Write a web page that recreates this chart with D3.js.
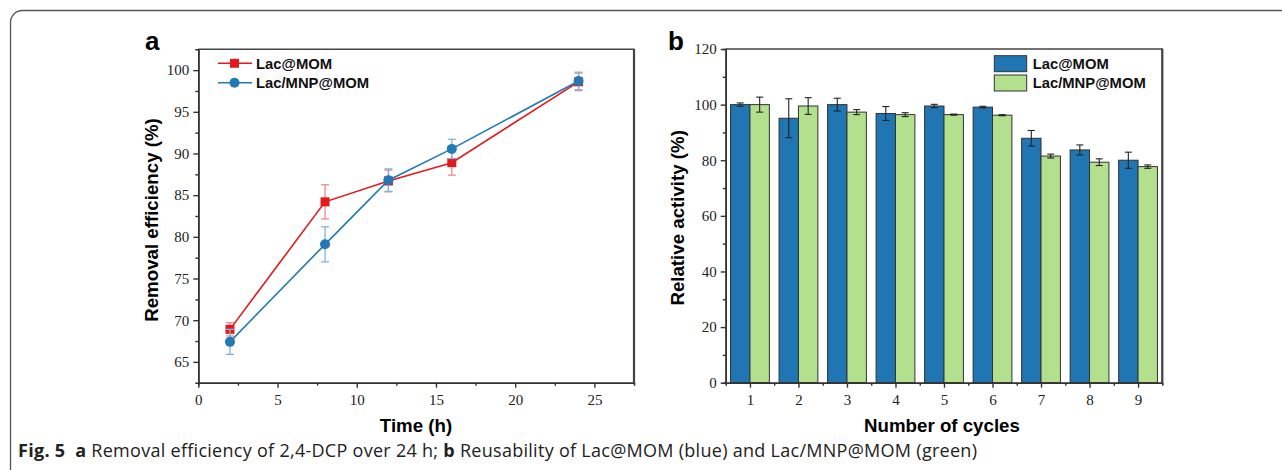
<!DOCTYPE html>
<html>
<head>
<meta charset="utf-8">
<script src="https://cdn.jsdelivr.net/npm/d3@7"></script>
<style>
  body { margin: 0; background: #fff; }
  svg { display: block; }
</style>
</head>
<body>
<script>
// ---- panel a : removal efficiency ----
const hours = [2, 8, 12, 16, 24]
const lacMom = [68.9, 84.2, 86.7, 88.9, 98.6]
const lacMomErr = [0.8, 2.05, 1.3, 1.5, 1.05]
const lacMnp = [67.4, 79.1, 86.8, 90.55, 98.7]
const lacMnpErr = [1.5, 2.1, 1.35, 1.15, 1.05]
const xTicksA = [0, 5, 10, 15, 20, 25]
const yTicksA = [65, 70, 75, 80, 85, 90, 95, 100]

// ---- panel b : reusability ----
const cycles = [1, 2, 3, 4, 5, 6, 7, 8, 9]
const actMom = [100, 95.1, 100, 96.8, 99.5, 99.1, 87.9, 83.7, 80.0]
const actMomErr = [0.6, 7.0, 2.3, 2.5, 0.6, 0.3, 2.8, 1.8, 2.9]
const actMnp = [100, 99.5, 97.3, 96.4, 96.4, 96.2, 81.5, 79.3, 77.7]
const actMnpErr = [2.7, 3.0, 0.9, 0.7, 0.2, 0.2, 0.7, 1.2, 0.6]
const yTicksB = [0, 20, 40, 60, 80, 100, 120]

const seriesNames = ['Lac@MOM', 'Lac/MNP@MOM']

const W = 1282, H = 470
const svg = d3.select('body').append('svg')
  .attr('width', W)
  .attr('height', H)

// rounded figure frame, runs off the right and bottom edge
svg.append('rect')
  .attr('x', 10.5).attr('y', 10.5)
  .attr('width', 1400).attr('height', 600)
  .attr('rx', 12)
  .style('fill', 'none')
  .style('stroke', '#555')
  .style('stroke-width', 1.3)

const tickFont = '"Liberation Serif", "DejaVu Serif", serif'
const boldFont = '"Liberation Sans", Arial, sans-serif'
const axisCol = '#333'

function styleAxis(g) {
  g.attr('font-family', null)
  g.select('.domain').style('stroke', axisCol).style('stroke-width', 1.6)
  g.selectAll('.tick line').style('stroke', axisCol).style('stroke-width', 1.4)
  g.selectAll('.tick text')
    .style('font-family', tickFont)
    .style('font-size', '15px')
    .style('fill', '#222')
}

/* ================= panel a ================= */
const a = { left: 198.3, right: 634, top: 49.3, bottom: 382.7 }
const xA = d3.scaleLinear().domain([0, 27.5]).range([a.left, a.right])
const yA = d3.scaleLinear().domain([62.5, 102.5]).range([a.bottom, a.top])

const gA = svg.append('g')

// box (top + right edges)
gA.append('path')
  .attr('d', `M${a.left},${a.top}H${a.right}V${a.bottom}`)
  .style('fill', 'none').style('stroke', '#444').style('stroke-width', 1.4)
gA.append('line')
  .attr('x1', a.right).attr('x2', a.right).attr('y1', a.top).attr('y2', a.bottom)
  .style('stroke', '#444').style('stroke-width', 2.2)

// minor ticks
gA.append('g')
  .attr('transform', `translate(0,${a.bottom})`)
  .call(d3.axisBottom(xA).tickValues(d3.range(2.5, 27.5, 5)).tickSize(3).tickFormat(''))
  .call(styleAxis)
gA.append('g')
  .attr('transform', `translate(${a.left},0)`)
  .call(d3.axisLeft(yA).tickValues(d3.range(67.5, 102.5, 5)).tickSize(3).tickFormat(''))
  .call(styleAxis)

gA.append('g')
  .attr('transform', `translate(0,${a.bottom})`)
  .call(d3.axisBottom(xA).tickValues(xTicksA).tickSize(5).tickSizeOuter(0).tickPadding(7))
  .call(styleAxis)
gA.append('g')
  .attr('transform', `translate(${a.left},0)`)
  .call(d3.axisLeft(yA).tickValues(yTicksA).tickSize(5).tickSizeOuter(0).tickPadding(4))
  .call(styleAxis)

const seriesA = [
  { name: seriesNames[0], vals: lacMom, err: lacMomErr, color: '#e31a1c', errColor: '#f08a8b', shape: 'square' },
  { name: seriesNames[1], vals: lacMnp, err: lacMnpErr, color: '#2279b5', errColor: '#7fb2d8', shape: 'circle' }
]

const line = d3.line().x(d => xA(d[0])).y(d => yA(d[1]))

seriesA.forEach(s => {
  const pts = hours.map((h, i) => [h, s.vals[i], s.err[i]])
  const g = gA.append('g')
  // error bars
  const eb = g.selectAll('g.err').data(pts).join('g')
  eb.append('line')
    .attr('x1', d => xA(d[0])).attr('x2', d => xA(d[0]))
    .attr('y1', d => yA(d[1] - d[2])).attr('y2', d => yA(d[1] + d[2]))
  eb.append('line')
    .attr('x1', d => xA(d[0]) - 4).attr('x2', d => xA(d[0]) + 4)
    .attr('y1', d => yA(d[1] + d[2])).attr('y2', d => yA(d[1] + d[2]))
  eb.append('line')
    .attr('x1', d => xA(d[0]) - 4).attr('x2', d => xA(d[0]) + 4)
    .attr('y1', d => yA(d[1] - d[2])).attr('y2', d => yA(d[1] - d[2]))
  eb.selectAll('line').style('stroke', s.errColor).style('stroke-width', 1.3)

  g.append('path').datum(pts).attr('d', line)
    .style('fill', 'none').style('stroke', s.color).style('stroke-width', 1.6)

  if (s.shape === 'square') {
    g.selectAll('rect').data(pts).join('rect')
      .attr('x', d => xA(d[0]) - 4.5).attr('y', d => yA(d[1]) - 4.5)
      .attr('width', 9).attr('height', 9)
      .style('fill', s.color)
  } else {
    g.selectAll('circle').data(pts).join('circle')
      .attr('cx', d => xA(d[0])).attr('cy', d => yA(d[1])).attr('r', 5)
      .style('fill', s.color)
  }
})

// legend a
seriesA.forEach((s, i) => {
  const ly = 63.3 + i * 19.4
  gA.append('line')
    .attr('x1', 218).attr('x2', 252).attr('y1', ly).attr('y2', ly)
    .style('stroke', s.color).style('stroke-width', 1.6)
  if (s.shape === 'square') {
    gA.append('rect').attr('x', 230).attr('y', ly - 4.5).attr('width', 9).attr('height', 9).style('fill', s.color)
  } else {
    gA.append('circle').attr('cx', 234.5).attr('cy', ly).attr('r', 5).style('fill', s.color)
  }
  gA.append('text')
    .attr('x', 256).attr('y', ly + 5.3)
    .text(s.name)
    .style('font-family', boldFont).style('font-weight', 'bold').style('font-size', '14.8px')
    .style('fill', '#111')
})

gA.append('text')
  .attr('transform', `translate(158,${(a.top + a.bottom) / 2 + 4}) rotate(-90)`)
  .attr('text-anchor', 'middle')
  .text('Removal efficiency (%)')
  .style('font-family', boldFont).style('font-weight', 'bold').style('font-size', '18.7px')

gA.append('text')
  .attr('x', 416).attr('y', 432)
  .attr('text-anchor', 'middle')
  .text('Time (h)')
  .style('font-family', boldFont).style('font-weight', 'bold').style('font-size', '18.7px')

gA.append('text')
  .attr('x', 145).attr('y', 50)
  .text('a')
  .style('font-family', boldFont).style('font-weight', 'bold').style('font-size', '26px')

/* ================= panel b ================= */
const b = { left: 725.7, right: 1162.3, top: 49, bottom: 382.7 }
const xB = d3.scaleLinear().domain([0.5, 9.5]).range([b.left, b.right])
const yB = d3.scaleLinear().domain([0, 120]).range([b.bottom, b.top])
const barW = 0.4

const gB = svg.append('g')

gB.append('path')
  .attr('d', `M${b.left},${b.top}H${b.right}V${b.bottom}`)
  .style('fill', 'none').style('stroke', '#444').style('stroke-width', 1.4)
gB.append('line')
  .attr('x1', b.right).attr('x2', b.right).attr('y1', b.top).attr('y2', b.bottom)
  .style('stroke', '#444').style('stroke-width', 2.2)

const seriesB = [
  { name: seriesNames[0], vals: actMom, err: actMomErr, color: '#1f76b3', off: -barW },
  { name: seriesNames[1], vals: actMnp, err: actMnpErr, color: '#b3e08c', off: 0 }
]

seriesB.forEach(s => {
  const pts = cycles.map((c, i) => [c, s.vals[i], s.err[i]])
  const g = gB.append('g')
  g.selectAll('rect').data(pts).join('rect')
    .attr('x', d => xB(d[0] + s.off))
    .attr('width', xB(barW) - xB(0))
    .attr('y', d => yB(d[1]))
    .attr('height', d => yB(0) - yB(d[1]))
    .style('fill', s.color)
    .style('stroke', '#333')
    .style('stroke-width', 1)
  const eb = g.selectAll('g.err').data(pts).join('g')
  const cx = d => xB(d[0] + s.off + barW / 2)
  eb.append('line')
    .attr('x1', cx).attr('x2', cx)
    .attr('y1', d => yB(d[1] - d[2])).attr('y2', d => yB(d[1] + d[2]))
  eb.append('line')
    .attr('x1', d => cx(d) - 3.5).attr('x2', d => cx(d) + 3.5)
    .attr('y1', d => yB(d[1] + d[2])).attr('y2', d => yB(d[1] + d[2]))
  eb.append('line')
    .attr('x1', d => cx(d) - 3.5).attr('x2', d => cx(d) + 3.5)
    .attr('y1', d => yB(d[1] - d[2])).attr('y2', d => yB(d[1] - d[2]))
  eb.selectAll('line').style('stroke', '#222').style('stroke-width', 1.1)
})

gB.append('g')
  .attr('transform', `translate(0,${b.bottom})`)
  .call(d3.axisBottom(xB).tickValues(d3.range(1.5, 9.5, 1)).tickSize(3).tickFormat(''))
  .call(styleAxis)
gB.append('g')
  .attr('transform', `translate(${b.left},0)`)
  .call(d3.axisLeft(yB).tickValues(d3.range(10, 120, 20)).tickSize(3).tickFormat(''))
  .call(styleAxis)
gB.append('g')
  .attr('transform', `translate(0,${b.bottom})`)
  .call(d3.axisBottom(xB).tickValues(cycles).tickSize(5).tickSizeOuter(0).tickPadding(7))
  .call(styleAxis)
gB.append('g')
  .attr('transform', `translate(${b.left},0)`)
  .call(d3.axisLeft(yB).tickValues(yTicksB).tickSize(5).tickSizeOuter(0).tickPadding(4))
  .call(styleAxis)

// legend b
seriesB.forEach((s, i) => {
  const ly = 55.7 + i * 19.3
  gB.append('rect')
    .attr('x', 994.3).attr('y', ly).attr('width', 32.4).attr('height', 16)
    .style('fill', s.color).style('stroke', '#333').style('stroke-width', 1)
  gB.append('text')
    .attr('x', 1032.7).attr('y', ly + 13.3)
    .text(s.name)
    .style('font-family', boldFont).style('font-weight', 'bold').style('font-size', '14.8px')
    .style('fill', '#111')
})

gB.append('text')
  .attr('transform', `translate(684,${(b.top + b.bottom) / 2 + 2}) rotate(-90)`)
  .attr('text-anchor', 'middle')
  .text('Relative activity (%)')
  .style('font-family', boldFont).style('font-weight', 'bold').style('font-size', '18.7px')

gB.append('text')
  .attr('x', 942).attr('y', 432)
  .attr('text-anchor', 'middle')
  .text('Number of cycles')
  .style('font-family', boldFont).style('font-weight', 'bold').style('font-size', '18.7px')

gB.append('text')
  .attr('x', 668).attr('y', 50)
  .text('b')
  .style('font-family', boldFont).style('font-weight', 'bold').style('font-size', '26px')

// ---- caption ----
const cap = svg.append('text')
  .attr('x', 18).attr('y', 457)
  .style('font-family', '"Open Sans", "Noto Sans", sans-serif')
  .style('font-size', '18px')
  .style('letter-spacing', '0.28px')
  .style('fill', '#222')
cap.append('tspan').style('font-weight', 'bold').text('Fig. 5\u00a0\u00a0a ')
cap.append('tspan').text('Removal efficiency of 2,4-DCP over 24 h; ')
cap.append('tspan').style('font-weight', 'bold').text('b ')
cap.append('tspan').text('Reusability of Lac@MOM (blue) and Lac/MNP@MOM (green)')
</script>
</body>
</html>
